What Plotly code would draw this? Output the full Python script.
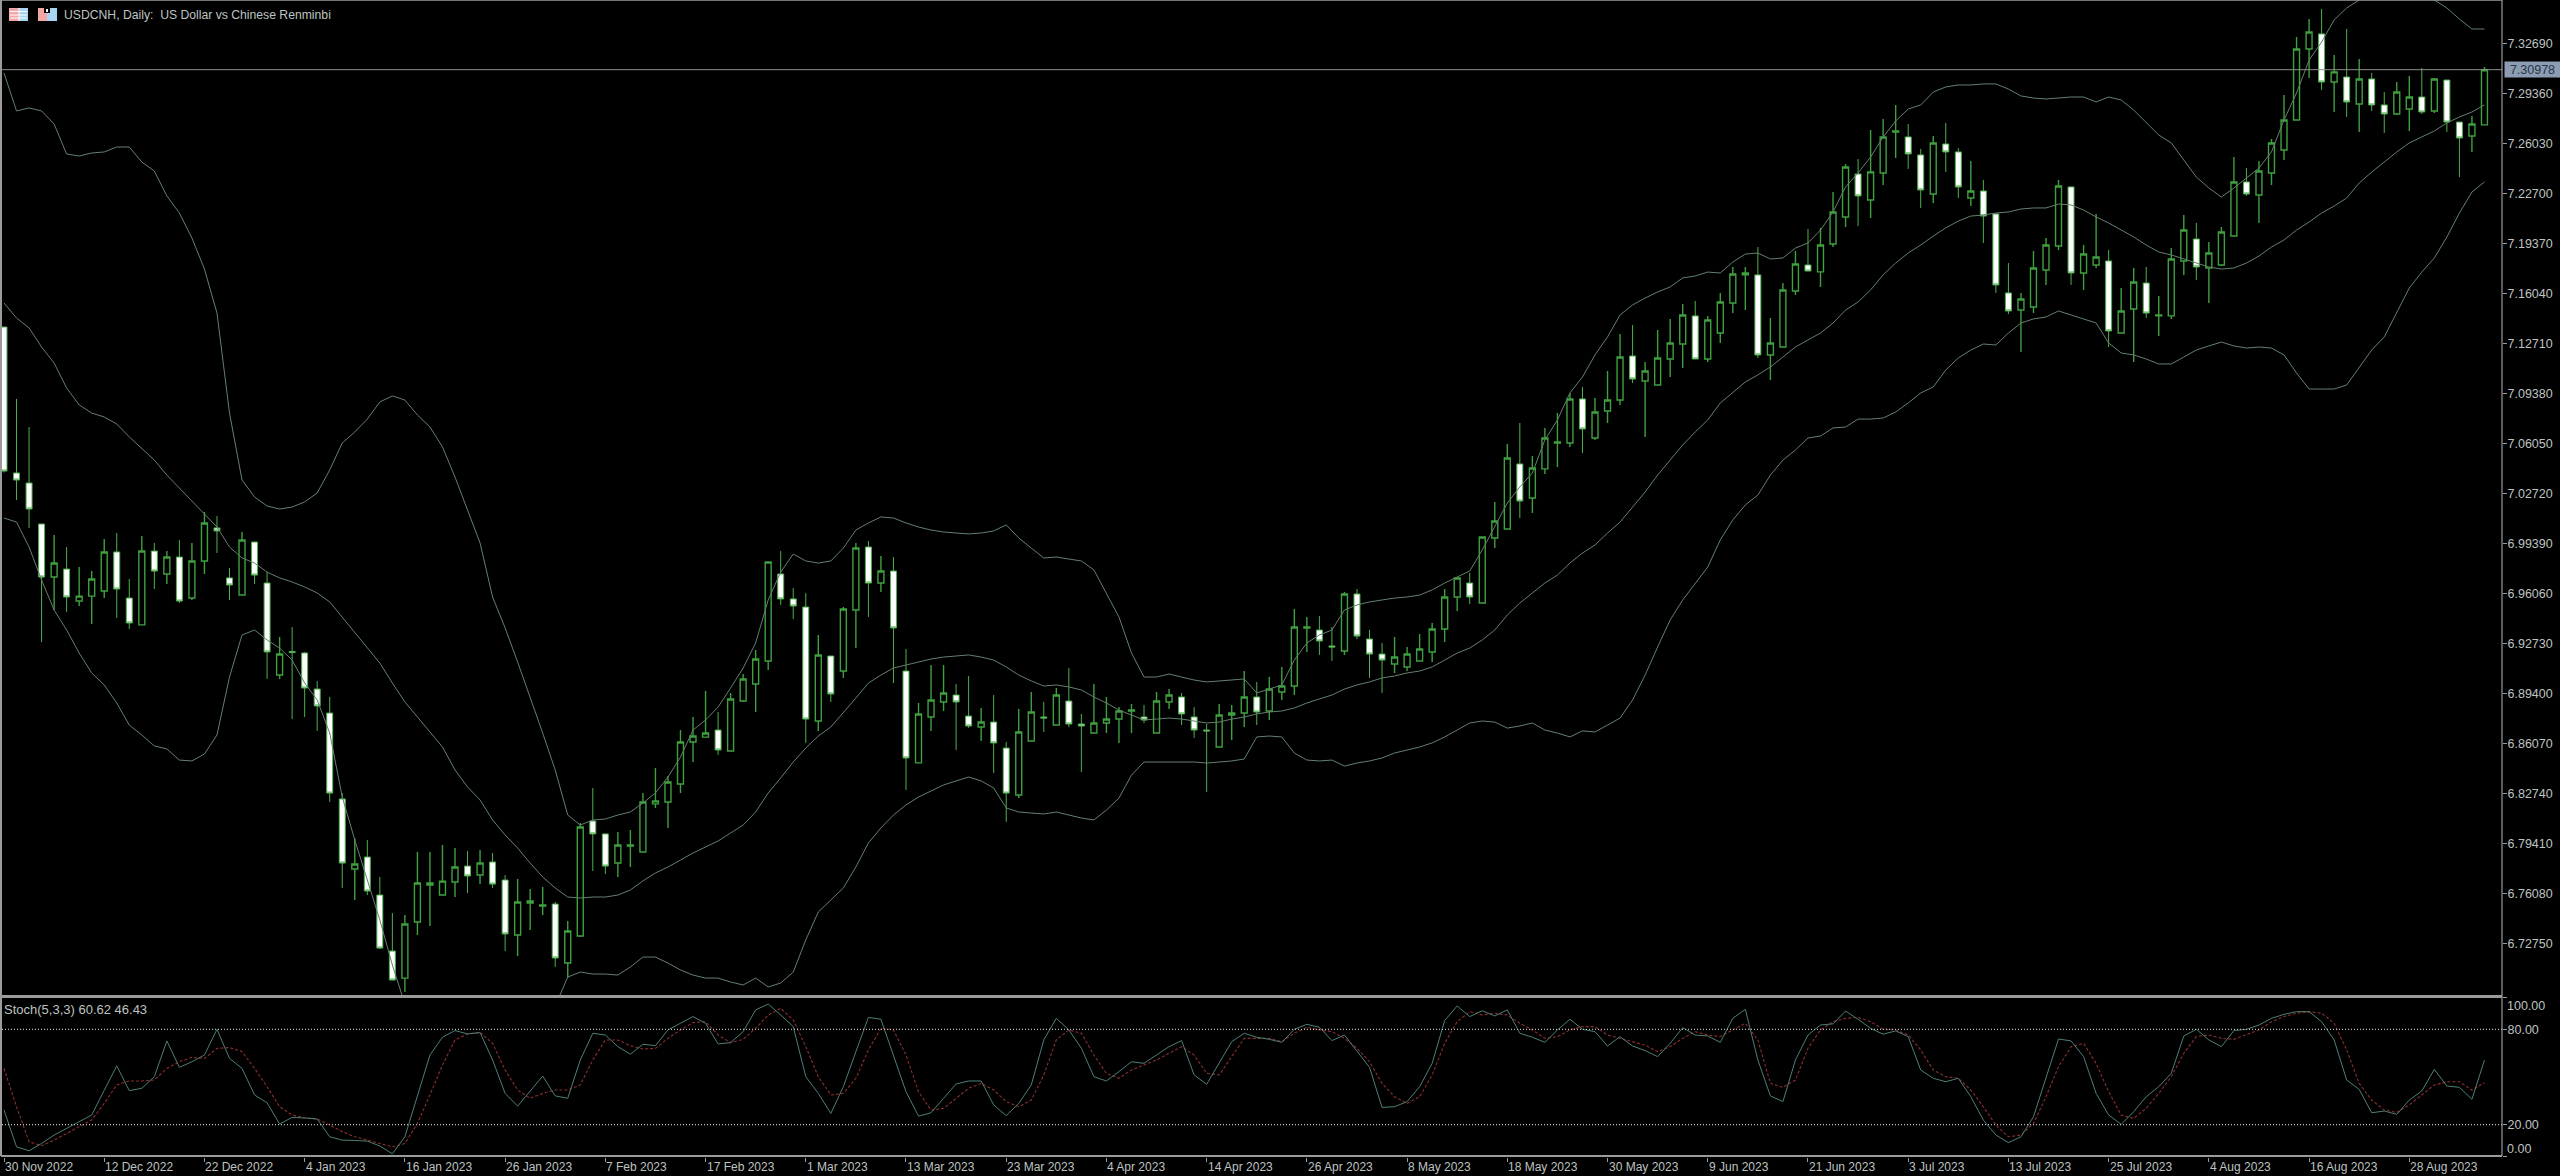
import plotly.graph_objects as go

opens = [
7.1384,7.0412,7.0345,7.0072,6.9719,6.9772,6.9559,6.9592,6.9626,6.9886,
6.9579,6.9400,6.9892,6.9739,6.9852,6.9579,6.9826,7.0046,6.9713,6.9599,
6.9952,6.9679,6.9066,6.9223,6.9213,6.8973,6.8813,6.8241,6.7774,6.7854,
6.7601,6.7228,6.7048,6.7421,6.7668,6.7601,6.7688,6.7794,6.7734,6.7821,
6.7701,6.7335,6.7548,6.7528,6.7541,6.7148,6.7328,6.8094,6.8008,6.7814,
6.7928,6.7888,6.8208,6.8221,6.8341,6.8620,6.8653,6.8700,6.8560,6.8893,
6.9007,6.9160,6.9739,6.9573,6.9519,6.8760,6.9193,6.9093,6.9499,6.9919,
6.9679,6.9759,6.9093,6.8481,6.8787,6.8887,6.8933,6.8793,6.8720,6.8753,
6.8580,6.8267,6.8627,6.8787,6.8733,6.8893,6.8740,6.8680,6.8747,6.8773,
6.8827,6.8787,6.8680,6.8887,6.8920,6.8787,6.8700,6.8587,6.8800,6.8813,
6.8920,6.8827,6.8953,6.8993,6.9380,6.9366,6.9260,6.9226,6.9606,6.9306,
6.9206,6.9140,6.9120,6.9160,6.9220,6.9373,6.9586,6.9679,6.9546,6.9979,
7.0039,7.0472,7.0245,7.0439,7.0612,7.0612,7.0905,7.0645,7.0825,7.0898,
7.1191,7.1025,7.0998,7.1171,7.1271,7.1458,7.1171,7.1344,7.1544,7.1731,
7.1731,7.1198,7.1251,7.1624,7.1797,7.1751,7.1937,7.2117,7.2403,7.2230,
7.2410,7.2683,7.2650,7.2530,7.2270,7.2603,7.2550,7.2243,7.2290,7.2137,
7.1611,7.1497,7.1517,7.1764,7.1924,7.2317,7.1744,7.1797,7.1824,7.1344,
7.1504,7.1677,7.1458,7.1458,7.1824,7.1970,7.1777,7.1797,7.1990,7.2350,
7.2263,7.2410,7.2563,7.2763,7.3236,7.3336,7.3016,7.3049,7.2869,7.3036,
7.2863,7.2803,7.2836,7.2916,7.2823,7.3029,7.2749,7.2656,7.2730]

highs = [
7.1384,7.0905,7.0718,7.0072,6.9999,6.9919,6.9785,6.9759,6.9972,7.0012,
6.9706,6.9992,6.9946,6.9892,6.9966,6.9946,7.0152,7.0126,6.9779,7.0019,
6.9952,6.9752,6.9319,6.9386,6.9220,6.9026,6.8920,6.8280,6.7981,6.7968,
6.7721,6.7481,6.7468,6.7888,6.7888,6.7934,6.7914,6.7894,6.7901,6.7881,
6.7734,6.7708,6.7641,6.7655,6.7555,6.7428,6.8081,6.8314,6.8008,6.8021,
6.8034,6.8280,6.8447,6.8394,6.8700,6.8787,6.8960,6.8820,6.8947,6.9073,
6.9233,6.9819,6.9892,6.9646,6.9612,6.9333,6.9193,6.9519,6.9946,6.9959,
6.9859,6.9852,6.9240,6.8880,6.9133,6.9133,6.9007,6.9060,6.8847,6.8933,
6.8620,6.8840,6.8953,6.8887,6.8980,6.9113,6.8807,6.9007,6.8920,6.8853,
6.8873,6.8867,6.8953,6.8973,6.8947,6.8853,6.8740,6.8873,6.8867,6.9093,
6.9020,6.9053,6.9120,6.9506,6.9453,6.9459,6.9386,6.9619,6.9639,6.9366,
6.9280,6.9319,6.9253,6.9340,6.9413,6.9639,6.9719,6.9746,6.9986,7.0219,
7.0605,7.0745,7.0525,7.0712,7.0811,7.0945,7.0985,7.0911,7.1091,7.1338,
7.1397,7.1151,7.1364,7.1438,7.1537,7.1557,7.1458,7.1611,7.1784,7.1784,
7.1917,7.1444,7.1678,7.1890,7.2037,7.2044,7.2283,7.2470,7.2503,7.2696,
7.2770,7.2863,7.2736,7.2570,7.2656,7.2743,7.2576,7.2490,7.2363,7.2137,
7.1810,7.1611,7.1890,7.1977,7.2363,7.2317,7.1930,7.2137,7.1897,7.1644,
7.1777,7.1784,7.1591,7.1910,7.2130,7.2077,7.1950,7.2050,7.2516,7.2443,
7.2490,7.2636,7.2929,7.3316,7.3436,7.3502,7.3196,7.3369,7.3169,7.3076,
7.2949,7.3016,7.3056,7.3109,7.3043,7.3029,7.2749,7.2789,7.3116]

lows = [
7.0415,7.0232,7.0046,6.9286,6.9499,6.9486,6.9526,6.9406,6.9579,6.9446,
6.9373,6.9400,6.9639,6.9672,6.9546,6.9566,6.9739,6.9879,6.9566,6.9599,
6.9672,6.9040,6.9040,6.8773,6.8787,6.8694,6.8221,6.7648,6.7568,6.7601,
6.7241,6.7035,6.6955,6.7335,6.7395,6.7601,6.7588,6.7614,6.7674,6.7648,
6.7228,6.7195,6.7368,6.7468,6.7122,6.7048,6.7322,6.7761,6.7741,6.7721,
6.7788,6.7888,6.8181,6.8048,6.8281,6.8487,6.8653,6.8534,6.8560,6.8887,
6.8820,6.9100,6.9533,6.9439,6.8614,6.8694,6.8887,6.9047,6.9246,6.9453,
6.9619,6.9013,6.8301,6.8481,6.8694,6.8827,6.8567,6.8714,6.8627,6.8414,
6.8088,6.8247,6.8627,6.8687,6.8733,6.8720,6.8420,6.8680,6.8680,6.8614,
6.8680,6.8747,6.8680,6.8840,6.8733,6.8647,6.8287,6.8587,6.8634,6.8720,
6.8733,6.8767,6.8900,6.8933,6.9220,6.9200,6.9160,6.9200,6.9306,6.9047,
6.8947,6.9080,6.9093,6.9160,6.9153,6.9286,6.9493,6.9539,6.9546,6.9912,
7.0039,7.0112,7.0145,7.0405,7.0452,7.0585,7.0545,7.0632,7.0745,7.0865,
7.1011,7.0652,7.0998,7.1051,7.1111,7.1171,7.1151,7.1278,7.1478,7.1498,
7.1178,7.1031,7.1251,7.1597,7.1757,7.1651,7.1917,7.2050,7.2057,7.2110,
7.2330,7.2510,7.2437,7.2177,7.2210,7.2417,7.2243,7.2190,7.1944,7.1611,
7.1471,7.1218,7.1478,7.1664,7.1897,7.1664,7.1631,7.1777,7.1251,7.1344,
7.1151,7.1444,7.1324,7.1438,7.1731,7.1697,7.1544,7.1790,7.1990,7.2257,
7.2077,7.2330,7.2496,7.2763,7.3043,7.2963,7.2816,7.2783,7.2683,7.2823,
7.2676,7.2796,7.2690,7.2803,7.2809,7.2683,7.2383,7.2550,7.2730]

closes = [
7.0425,7.0365,7.0172,6.9719,6.9812,6.9586,6.9592,6.9706,6.9886,6.9639,
6.9413,6.9892,6.9759,6.9852,6.9559,6.9826,7.0079,7.0026,6.9666,6.9966,
6.9732,6.9220,6.9206,6.9216,6.8980,6.8860,6.8280,6.7814,6.7808,6.7628,
6.7248,6.7035,6.7408,6.7681,6.7681,6.7694,6.7788,6.7728,6.7814,6.7674,
6.7342,6.7555,6.7561,6.7535,6.7182,6.7362,6.8054,6.8008,6.7794,6.7934,
6.7934,6.8221,6.8228,6.8354,6.8620,6.8660,6.8680,6.8567,6.8907,6.9040,
6.9173,6.9819,6.9573,6.9526,6.8773,6.9200,6.8940,6.9506,6.9912,6.9679,
6.9759,6.9380,6.8514,6.8807,6.8900,6.8947,6.8887,6.8727,6.8753,6.8614,
6.8280,6.8687,6.8820,6.8780,6.8933,6.8740,6.8727,6.8747,6.8773,6.8827,
6.8833,6.8767,6.8893,6.8933,6.8807,6.8700,6.8694,6.8800,6.8813,6.8920,
6.8820,6.8973,6.8993,6.9386,6.9386,6.9293,6.9253,6.9606,6.9326,6.9206,
6.9166,6.9186,6.9206,6.9240,6.9373,6.9586,6.9713,6.9586,6.9986,7.0092,
7.0512,7.0225,7.0445,7.0645,7.0618,7.0905,7.0705,7.0818,7.0898,7.1184,
7.1038,7.1091,7.1178,7.1278,7.1464,7.1171,7.1431,7.1551,7.1737,7.1744,
7.1198,7.1278,7.1631,7.1804,7.1757,7.1930,7.2150,7.2450,7.2257,7.2417,
7.2650,7.2690,7.2537,7.2297,7.2610,7.2550,7.2317,7.2290,7.2123,7.1664,
7.1491,7.1571,7.1777,7.1930,7.2323,7.1744,7.1870,7.1850,7.1358,7.1491,
7.1684,7.1477,7.1464,7.1837,7.2030,7.1784,7.1877,7.2017,7.2350,7.2270,
7.2423,7.2610,7.2763,7.3236,7.3349,7.3016,7.3083,7.2883,7.3036,7.2863,
7.2803,7.2949,7.2916,7.2816,7.3036,7.2749,7.2643,7.2736,7.30978]

bb_upper = [
7.3076,7.2823,7.2843,7.2823,7.2736,7.2536,7.2523,7.2543,7.2550,7.2583,
7.2583,7.2483,7.2423,7.2257,7.2143,7.1977,7.1770,7.1477,7.0811,7.0365,
7.0252,7.0192,7.0172,7.0185,7.0219,7.0279,7.0432,7.0612,7.0685,7.0771,
7.0885,7.0925,7.0898,7.0798,7.0718,7.0585,7.0385,7.0165,6.9946,6.9586,
6.9380,6.9153,6.8920,6.8680,6.8434,6.8134,6.8067,6.8101,6.8107,6.8134,
6.8154,6.8214,6.8281,6.8387,6.8520,6.8700,6.8767,6.8853,6.8980,6.9113,
6.9280,6.9566,6.9752,6.9872,6.9826,6.9812,6.9826,6.9912,7.0032,7.0079,
7.0119,7.0112,7.0079,7.0052,7.0032,7.0019,7.0012,7.0006,7.0012,7.0026,
7.0066,6.9979,6.9912,6.9846,6.9852,6.9839,6.9826,6.9766,6.9613,6.9453,
6.9213,6.9053,6.9053,6.9073,6.9053,6.9033,6.9020,6.9027,6.9033,6.9040,
6.8947,6.8973,6.9000,6.9166,6.9280,6.9333,6.9366,6.9499,6.9533,6.9553,
6.9566,6.9579,6.9586,6.9599,6.9633,6.9679,6.9719,6.9759,6.9899,7.0052,
7.0212,7.0319,7.0412,7.0632,7.0765,7.0945,7.1051,7.1198,7.1318,7.1464,
7.1531,7.1577,7.1617,7.1651,7.1711,7.1724,7.1750,7.1744,7.1817,7.1870,
7.1877,7.1837,7.1844,7.1910,7.1944,7.2030,7.2150,7.2317,7.2410,7.2516,
7.2650,7.2756,7.2836,7.2863,7.2949,7.2983,7.2996,7.2996,7.3003,7.3003,
7.2969,7.2923,7.2909,7.2903,7.2909,7.2916,7.2916,7.2883,7.2916,7.2896,
7.2829,7.2749,7.2663,7.2610,7.2496,7.2383,7.2310,7.2250,7.2310,7.2377,
7.2443,7.2550,7.2763,7.2943,7.3162,7.3282,7.3429,7.3509,7.3562,7.3602,
7.3629,7.3655,7.3642,7.3595,7.3562,7.3509,7.3435,7.3369,7.3369]

bb_middle = [
7.1544,7.1444,7.1378,7.1251,7.1144,7.0978,7.0865,7.0811,7.0785,7.0738,
7.0652,7.0578,7.0498,7.0398,7.0312,7.0225,7.0145,7.0052,6.9919,6.9846,
6.9812,6.9752,6.9713,6.9686,6.9653,6.9613,6.9553,6.9453,6.9353,6.9246,
6.9146,6.9013,6.8887,6.8787,6.8687,6.8587,6.8434,6.8321,6.8234,6.8101,
6.8001,6.7914,6.7814,6.7721,6.7648,6.7588,6.7581,6.7588,6.7588,6.7601,
6.7635,6.7695,6.7748,6.7788,6.7834,6.7881,6.7921,6.7961,6.8014,6.8067,
6.8154,6.8281,6.8381,6.8487,6.8580,6.8660,6.8720,6.8813,6.8913,6.9013,
6.9066,6.9113,6.9133,6.9153,6.9173,6.9186,6.9193,6.9200,6.9186,6.9166,
6.9120,6.9066,6.9027,6.8993,6.9000,6.8987,6.8967,6.8920,6.8880,6.8833,
6.8800,6.8767,6.8773,6.8780,6.8773,6.8760,6.8747,6.8753,6.8773,6.8787,
6.8807,6.8820,6.8827,6.8847,6.8880,6.8907,6.8933,6.8973,6.9000,6.9020,
6.9047,6.9060,6.9080,6.9093,6.9120,6.9166,6.9213,6.9246,6.9300,6.9366,
6.9466,6.9546,6.9613,6.9679,6.9732,6.9812,6.9879,6.9932,7.0012,7.0085,
7.0185,7.0285,7.0398,7.0498,7.0598,7.0685,7.0765,7.0878,7.0951,7.1018,
7.1065,7.1118,7.1184,7.1251,7.1298,7.1344,7.1411,7.1497,7.1551,7.1631,
7.1731,7.1810,7.1877,7.1930,7.1990,7.2044,7.2090,7.2123,7.2130,7.2143,
7.2150,7.2170,7.2177,7.2177,7.2203,7.2197,7.2163,7.2117,7.2077,7.2030,
7.1984,7.1930,7.1884,7.1864,7.1837,7.1810,7.1784,7.1770,7.1777,7.1810,
7.1857,7.1917,7.1964,7.2030,7.2083,7.2143,7.2190,7.2243,7.2343,7.2416,
7.2483,7.2550,7.2610,7.2650,7.2690,7.2743,7.2783,7.2816,7.2863]

bb_lower = [
7.0112,7.0085,6.9919,6.9699,6.9499,6.9366,6.9213,6.9080,6.9000,6.8880,
6.8733,6.8667,6.8594,6.8574,6.8500,6.8494,6.8540,6.8667,6.9053,6.9333,
6.9366,6.9300,6.9246,6.9166,6.9013,6.8900,6.8680,6.8254,6.7968,6.7701,
6.7435,6.7135,6.6875,6.6775,6.6655,6.6589,6.6482,6.6476,6.6522,6.6616,
6.6622,6.6676,6.6709,6.6762,6.6862,6.7055,6.7088,6.7075,6.7075,6.7068,
6.7122,6.7188,6.7188,6.7148,6.7102,6.7068,6.7048,6.7048,6.7022,6.7002,
6.7048,6.6989,6.7015,6.7088,6.7302,6.7488,6.7568,6.7648,6.7788,6.7948,
6.8048,6.8134,6.8201,6.8254,6.8294,6.8334,6.8361,6.8387,6.8361,6.8314,
6.8181,6.8154,6.8147,6.8141,6.8154,6.8134,6.8114,6.8101,6.8167,6.8247,
6.8400,6.8487,6.8487,6.8487,6.8487,6.8487,6.8480,6.8487,6.8494,6.8507,
6.8654,6.8660,6.8654,6.8547,6.8500,6.8494,6.8500,6.8460,6.8480,6.8494,
6.8514,6.8547,6.8567,6.8587,6.8614,6.8654,6.8700,6.8747,6.8760,6.8753,
6.8713,6.8727,6.8747,6.8700,6.8680,6.8654,6.8694,6.8687,6.8733,6.8780,
6.8900,6.9066,6.9253,6.9433,6.9566,6.9679,6.9786,6.9966,7.0099,7.0199,
7.0265,7.0398,7.0498,7.0565,7.0645,7.0658,7.0712,7.0718,7.0771,7.0771,
7.0778,7.0818,7.0878,7.0945,7.0985,7.1098,7.1178,7.1231,7.1271,7.1264,
7.1344,7.1411,7.1438,7.1451,7.1491,7.1464,7.1438,7.1411,7.1278,7.1211,
7.1198,7.1171,7.1138,7.1138,7.1184,7.1231,7.1258,7.1284,7.1258,7.1244,
7.1251,7.1244,7.1198,7.1078,7.0971,7.0971,7.0971,7.0998,7.1118,7.1231,
7.1318,7.1477,7.1644,7.1750,7.1844,7.1984,7.2143,7.2283,7.2350]

stoch_main = [
29.2,6.1,3.6,8.2,13.5,17.7,21.9,26.1,41.6,57.0,
41.4,42.9,50.2,72.7,56.1,59.6,63.8,80.0,61.7,55.4,
38.7,33.8,20.4,24.6,24.2,23.6,12.4,10.3,10.1,9.7,
6.6,1.7,12.4,37.6,63.8,75.0,79.2,77.1,77.9,60.7,
39.7,31.7,40.8,50.6,38.1,36.6,60.7,77.5,76.4,69.1,
64.3,70.6,69.7,79.6,83.8,88.0,83.8,70.8,71.6,78.5,
92.2,95.9,89.0,81.7,50.2,39.7,27.1,43.9,65.9,87.5,
86.3,63.8,40.8,25.4,27.5,36.6,45.6,47.5,47.5,32.4,
25.7,33.4,45.0,73.3,86.9,79.6,68.1,50.2,47.5,53.4,
59.6,58.6,63.8,69.1,72.9,51.3,45.4,58.6,72.2,77.5,
75.0,73.7,71.8,80.0,83.1,81.3,72.9,76.4,65.9,56.1,
30.9,31.3,34.5,43.9,58.6,85.5,94.7,88.0,91.7,88.4,
92.2,77.5,75.0,71.8,79.6,86.3,80.0,78.5,69.5,75.4,
69.5,66.6,62.8,71.2,81.0,76.4,75.8,71.8,86.9,92.6,
60.7,38.1,34.5,60.7,76.4,82.7,83.4,91.5,86.3,80.6,
76.9,79.0,75.4,54.4,49.2,47.0,49.2,37.6,22.9,13.5,
8.7,12.4,25.0,50.2,73.9,72.7,62.8,39.7,26.1,20.2,
28.2,37.6,43.9,52.3,75.8,80.0,73.3,69.1,79.2,80.0,
82.7,86.9,89.4,91.1,91.1,84.8,73.3,48.1,42.2,27.5,
28.6,26.5,35.5,41.2,54.8,44.3,43.5,36.0,60.62]

stoch_signal = [
55.4,31.3,9.3,6.8,10.3,14.5,18.7,22.9,33.4,45.0,
47.5,47.5,48.1,55.4,59.6,62.4,61.7,68.0,68.5,66.0,
55.4,43.9,31.3,26.1,24.4,23.6,19.8,15.6,12.4,10.3,
8.2,6.1,8.2,20.8,38.7,57.5,73.3,77.1,78.1,71.2,
54.4,41.8,36.6,39.7,41.8,41.8,45.0,60.7,73.3,73.3,
69.7,67.6,68.0,74.3,79.6,84.2,84.8,76.4,71.6,73.7,
80.6,89.0,93.2,85.9,69.1,50.2,38.7,39.7,49.2,67.0,
80.6,79.6,63.8,40.8,29.2,30.3,36.6,42.9,46.0,41.8,
34.5,31.3,35.5,51.3,73.3,79.6,77.5,63.8,52.3,49.2,
54.4,57.5,60.7,64.9,69.1,63.8,52.3,51.3,62.8,74.3,
74.3,74.3,72.2,77.5,81.3,79.6,78.5,74.3,68.1,59.6,
46.0,37.6,33.4,37.6,51.3,71.2,84.8,91.1,89.0,90.1,
89.0,83.8,79.6,74.3,75.4,79.6,81.7,81.7,76.4,74.3,
71.8,70.1,65.9,69.1,74.3,78.5,76.4,75.4,79.6,83.8,
73.3,46.0,43.5,48.1,68.1,79.6,84.8,86.9,87.5,84.8,
80.0,79.6,76.4,67.0,54.4,50.2,49.2,41.8,31.3,19.8,
12.4,13.5,20.8,37.6,56.5,69.1,71.2,58.6,40.8,26.1,
24.0,30.3,39.7,50.2,64.9,75.4,76.4,74.3,73.7,76.4,
79.6,84.8,88.0,90.1,91.1,90.1,83.8,67.0,46.0,35.5,
29.2,27.8,32.4,38.7,45.0,47.0,47.0,41.8,46.43]

date_labels = ["30 Nov 2022","12 Dec 2022","22 Dec 2022","4 Jan 2023","16 Jan 2023",
               "26 Jan 2023","7 Feb 2023","17 Feb 2023","1 Mar 2023","13 Mar 2023",
               "23 Mar 2023","4 Apr 2023","14 Apr 2023","26 Apr 2023","8 May 2023",
               "18 May 2023","30 May 2023","9 Jun 2023","21 Jun 2023","3 Jul 2023",
               "13 Jul 2023","25 Jul 2023","4 Aug 2023","16 Aug 2023","28 Aug 2023"]
date_every = 8
price_ticks = [7.32690,7.29360,7.26030,7.22700,7.19370,7.16040,7.12710,7.09380,7.06050,
               7.02720,6.99390,6.96060,6.92730,6.89400,6.86070,6.82740,6.79410,6.76080,6.72750]
last_price = 7.30978
stoch_levels = [80, 20]

W, H = 2560, 1176
TXT = "#bfc3c1"
FONT = "Liberation Sans"
GRID = "#9b9b9b"
BAND = "#64806f"
bars = list(range(len(opens)))


def px_y(p):
    return 1 - p / H


fig = go.Figure()
fig.add_trace(go.Candlestick(
    x=bars, open=opens, high=highs, low=lows, close=closes,
    xaxis="x", yaxis="y", whiskerwidth=0,
    increasing=dict(line=dict(color="#3fa03f", width=1.4), fillcolor="#000000"),
    decreasing=dict(line=dict(color="#4fb04f", width=1.0), fillcolor="#ffffff"),
    showlegend=False))
for series in (bb_upper, bb_middle, bb_lower):
    fig.add_trace(go.Scatter(x=bars, y=series, mode="lines", xaxis="x", yaxis="y",
                             line=dict(color=BAND, width=1), showlegend=False))
fig.add_trace(go.Scatter(x=bars, y=stoch_signal, mode="lines", xaxis="x2", yaxis="y2",
                         line=dict(color="#8a2f2f", width=1.1, dash="3px,2px"), showlegend=False))
fig.add_trace(go.Scatter(x=bars, y=stoch_main, mode="lines", xaxis="x2", yaxis="y2",
                         line=dict(color="#4f7f75", width=1), showlegend=False))

x_range = [-0.16, 199.4]
dom_x = [2 / W, 2502 / W]
axis_common = dict(range=x_range, domain=dom_x, showgrid=False, zeroline=False)

shapes = [
    dict(type="line", xref="x domain", yref="y", x0=0, x1=1, y0=last_price, y1=last_price,
         line=dict(color="#8e8e8e", width=1)),
]
for lv in stoch_levels:
    shapes.append(dict(type="line", xref="x2 domain", yref="y2", x0=0, x1=1, y0=lv, y1=lv,
                       line=dict(color="#c0c0c0", width=1.2, dash="1px,2px")))
# window frame
frame = [(1, 0, 2502, 0, 1.6), (1, 0, 1, 1156, 2), (1, 996.5, 2502, 996.5, 3.2),
         (1, 1156, 2502, 1156, 2), (2502, 0, 2502, 1156, 1.2)]
for x0, y0, x1, y1, w in frame:
    shapes.append(dict(type="line", xref="paper", yref="paper", x0=x0 / W, x1=x1 / W,
                       y0=px_y(y0), y1=px_y(y1), line=dict(color=GRID, width=w)))
# the two small toolbar icons
icons = [(9, 8, 19, 21, "#f2a6a6"), (19, 8, 28, 21, "#a6d4f2"),
         (38, 8, 47, 21, "#f2a6a6"), (47, 8, 57, 21, "#a6d4f2")]
for x0, y0, x1, y1, c in icons:
    shapes.append(dict(type="rect", xref="paper", yref="paper", x0=x0 / W, x1=x1 / W,
                       y0=px_y(y0), y1=px_y(y1), fillcolor=c, line=dict(width=0)))
for y in (11.5, 15, 18):
    shapes.append(dict(type="line", xref="paper", yref="paper", x0=10 / W, x1=27 / W,
                       y0=px_y(y), y1=px_y(y), line=dict(color="#ffffff", width=1)))
shapes.append(dict(type="line", xref="paper", yref="paper", x0=19 / W, x1=19 / W,
                   y0=px_y(8), y1=px_y(21), line=dict(color="#ffffff", width=1)))
shapes.append(dict(type="rect", xref="paper", yref="paper", x0=44 / W, x1=50 / W,
                   y0=px_y(8), y1=px_y(13), fillcolor="#000000", line=dict(width=0)))
shapes.append(dict(type="rect", xref="paper", yref="paper", x0=46 / W, x1=48 / W,
                   y0=px_y(9), y1=px_y(12), fillcolor="#ffffff", line=dict(width=0)))

annotations = [
    dict(text="USDCNH, Daily:\u00a0 US Dollar vs Chinese Renminbi", xref="paper", yref="paper",
         x=63 / W, y=px_y(15), xanchor="left", yanchor="middle", showarrow=False,
         font=dict(family=FONT, size=12.2, color=TXT), borderpad=0),
    dict(text="Stoch(5,3,3) 60.62 46.43", xref="paper", yref="paper",
         x=3 / W, y=px_y(1009), xanchor="left", yanchor="middle", showarrow=False,
         font=dict(family=FONT, size=13, color=TXT), borderpad=0),
    dict(text=f"{last_price:.5f}", xref="paper", yref="paper",
         x=2504 / W, y=px_y(69.5), xanchor="left", yanchor="middle", showarrow=False,
         font=dict(family=FONT, size=12.5, color="#27364a"), bgcolor="#8c9cb2",
         width=55, height=15, borderpad=0),
    dict(text="100.00", xref="paper", yref="paper", x=2506 / W, y=px_y(1006),
         xanchor="left", yanchor="middle", showarrow=False,
         font=dict(family=FONT, size=12.5, color=TXT), borderpad=0),
    dict(text="0.00", xref="paper", yref="paper", x=2506 / W, y=px_y(1149),
         xanchor="left", yanchor="middle", showarrow=False,
         font=dict(family=FONT, size=12.5, color=TXT), borderpad=0),
]
for k, lab in enumerate(date_labels):
    annotations.append(dict(text=lab, xref="x2", yref="paper", x=k * date_every, y=px_y(1167),
                            xanchor="left", yanchor="middle", showarrow=False, borderpad=0,
                            font=dict(family=FONT, size=12, color=TXT)))

fig.update_layout(
    width=W, height=H, margin=dict(l=0, r=0, t=0, b=0, pad=0),
    paper_bgcolor="#000000", plot_bgcolor="#000000", showlegend=False, boxgap=0.32,
    font=dict(family=FONT, size=12.5, color=TXT),
    xaxis=dict(axis_common, anchor="y", showticklabels=False, ticks="",
               rangeslider=dict(visible=False)),
    xaxis2=dict(axis_common, anchor="y2", showticklabels=False, ticks="outside", ticklen=4,
                tickcolor=GRID, tickvals=[k * date_every for k in range(len(date_labels))]),
    yaxis=dict(domain=[px_y(995), 1], range=[7.3562 - 995 / 1501.5, 7.3562], side="right",
               anchor="x", showgrid=False, zeroline=False, tickmode="array",
               tickvals=price_ticks, ticktext=[f"{v:.5f}" for v in price_ticks],
               ticks="outside", ticklen=4, tickcolor=GRID, ticklabelstandoff=-2),
    yaxis2=dict(domain=[px_y(1156.5), px_y(997.5)], range=[0, 100], side="right",
                anchor="x2", showgrid=False, zeroline=False, tickmode="array",
                tickvals=[100, 80, 20, 0], ticktext=["", "80.00", "20.00", ""],
                ticks="outside", ticklen=4, tickcolor=GRID, ticklabelstandoff=-2),
    shapes=shapes, annotations=annotations,
)
fig.write_html("out.html", post_script="document.body.style.margin='0';",
               config={"displayModeBar": False})
